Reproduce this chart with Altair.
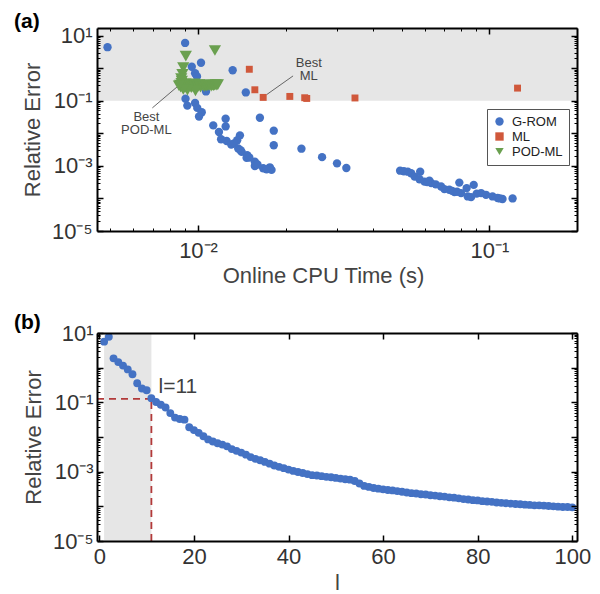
import altair as alt
import pandas as pd

FONT = "Liberation Sans"

# ---------------- panel (a): error vs online CPU time ----------------
grom_time = [0.00489, 0.00903, 0.01024, 0.00952, 0.00977, 0.00992, 0.01315, 0.01459,
             0.00906, 0.00919, 0.00977, 0.00994, 0.0103, 0.01008, 0.01128, 0.01244,
             0.01244, 0.0118, 0.0120, 0.01254, 0.01393, 0.01363, 0.01328, 0.01374,
             0.01412, 0.01475, 0.01468, 0.01567, 0.01567, 0.01674, 0.01764, 0.01788,
             0.01631, 0.0182, 0.0182, 0.02265, 0.02666, 0.0300, 0.0323,
             0.0494, 0.0525, 0.0539, 0.0579, 0.0554, 0.0576, 0.0599, 0.0623, 0.0632,
             0.0683, 0.0701, 0.0729, 0.0789, 0.0759, 0.0800, 0.0836, 0.0884, 0.0843,
             0.0866, 0.0937, 0.0974, 0.1026, 0.1068, 0.1110, 0.1202,
             0.01065, 0.0130, 0.0140, 0.0150, 0.0160, 0.0172,
             0.0509, 0.0612, 0.0655, 0.0745, 0.0775, 0.0905, 0.1087]
grom_err = [4.38, 5.92, 1.46, 1.10, 0.695, 0.556, 0.857, 0.179,
            0.115, 0.0705, 0.085, 0.060, 0.044, 0.0327, 0.0174, 0.0278,
            0.0162, 0.0109, 0.00653, 0.0058, 0.00863, 0.00608, 0.00483, 0.0034,
            0.00268, 0.00213, 0.00176, 0.00133, 0.00099, 0.00084, 0.0009, 0.00075,
            0.0298, 0.012, 0.00429, 0.00336, 0.00185, 0.00119, 0.000857,
            0.00071, 0.000662, 0.000592, 0.000662, 0.000467, 0.000389, 0.000329, 0.000352, 0.000294,
            0.000232, 0.000193, 0.000184, 0.000306, 0.000157, 0.000146, 0.000207, 0.00026, 0.000115,
            0.00011, 0.000146, 0.000129, 0.000115, 0.000103, 0.0000959, 0.0001,
            0.192, 0.0045, 0.0030, 0.0018, 0.0011, 0.00078,
            0.00068, 0.00032, 0.00027, 0.00017, 0.00016, 0.00014, 0.0001]

ml_time = [0.0150, 0.01567, 0.01674, 0.02066, 0.02324, 0.02362, 0.03458, 0.125]
ml_err = [0.92, 0.216, 0.126, 0.135, 0.123, 0.117, 0.121, 0.243]

pod_time = [0.00908, 0.01143, 0.0089, 0.00884, 0.00876, 0.0088,
            0.00868, 0.00872, 0.00878, 0.00885, 0.0089, 0.00895, 0.0090, 0.00905,
            0.0091, 0.00915, 0.0092, 0.00928, 0.00935, 0.0094, 0.00948, 0.00955,
            0.0096, 0.00968, 0.00975, 0.0098, 0.0099, 0.0100, 0.0101, 0.0102,
            0.0103, 0.0104, 0.0105, 0.0106, 0.0107, 0.0108, 0.0109, 0.0110,
            0.0111, 0.0112, 0.0113, 0.0114, 0.0115, 0.0116, 0.0117,
            0.0098, 0.0092, 0.0089, 0.0086]
pod_err = [2.33, 3.47, 1.03, 0.65, 0.48, 0.40,
           0.30, 0.26, 0.34, 0.28, 0.24, 0.31, 0.27, 0.33,
           0.25, 0.29, 0.30, 0.26, 0.32, 0.28, 0.25, 0.30,
           0.27, 0.33, 0.28, 0.24, 0.30, 0.27, 0.31, 0.26,
           0.29, 0.30, 0.27, 0.30, 0.28, 0.30, 0.29, 0.30,
           0.28, 0.30, 0.29, 0.30, 0.31, 0.30, 0.31,
           0.20, 0.21, 0.22, 0.286]

series_names = ["G-ROM", "ML", "POD-ML"]
series_colors = ["#4472C4", "#D0583B", "#6AA04F"]
series_shapes = ["circle", "square", "triangle-down"]
series_sizes = [70, 48, 150]

time_domain = [0.0045, 0.2]
err_domain_a = [1e-5, 17]
gray_limit = 0.1

# annotation arrows (start point, end point) and texts
best_ml_line = {"t0": 0.01718, "e0": 0.152, "t1": 0.0212, "e1": 0.575}
best_pod_line = {"t0": 0.00856, "e0": 0.286, "t1": 0.00697, "e1": 0.060}
best_texts = {"t": [0.024, 0.00665], "e": [2.17, 0.0497], "label": ["Best\nML", "Best\nPOD-ML"]}

# ---------------- panel (b): error vs number of modes l ----------------
modes = list(range(1, 101))
mode_err = [5.62, 7.76, 1.86, 1.45, 1.15, 0.891, 0.646, 0.355, 0.251, 0.224,
            0.132, 0.102, 0.0851, 0.0708, 0.049, 0.0363, 0.0331, 0.0316, 0.0191, 0.0158,
            0.0132, 0.0105, 0.00851, 0.00741, 0.00661, 0.00603, 0.00537, 0.00447, 0.00398, 0.00355,
            0.00309, 0.00263, 0.00234, 0.00214, 0.00191, 0.0017, 0.00151, 0.00138, 0.00126, 0.00115,
            0.00105, 0.000977, 0.000912, 0.000851, 0.000794, 0.000776, 0.000741, 0.000708, 0.000692, 0.000661,
            0.000631, 0.000603, 0.000589, 0.000537, 0.000457, 0.000389, 0.000363, 0.000339, 0.000324, 0.000309,
            0.000295, 0.000288, 0.000275, 0.000263, 0.000251, 0.00024, 0.000234, 0.000224, 0.000219, 0.000209,
            0.000204, 0.000195, 0.000191, 0.000182, 0.000178, 0.00017, 0.000162, 0.000158, 0.000151, 0.000148,
            0.000141, 0.000138, 0.000135, 0.000129, 0.000126, 0.000123, 0.00012, 0.000117, 0.000115, 0.000112,
            0.00011, 0.000107, 0.000107, 0.000105, 0.000102, 0.0001, 0.0000977, 0.0000955, 0.0000955, 0.0000933]
l_domain = [-0.5, 101]
err_domain_b = [1e-5, 10]
gray_l = [1, 11]
best_l = 11
best_l_err = 0.125
best_label = {"l": 12.5, "e": 0.183, "text": "l=11"}

# tick values
x_major_a = [0.01, 0.1]
x_minor_a = [0.005, 0.006, 0.007, 0.008, 0.009, 0.02, 0.03, 0.04, 0.05, 0.06, 0.07, 0.08, 0.09, 0.2]
y_major = [1e-5, 1e-4, 1e-3, 1e-2, 1e-1, 1, 10]
y_minor = [m * d for d in [1e-5, 1e-4, 1e-3, 1e-2, 1e-1, 1] for m in range(2, 10)] + [10]
y_labels = [1e-5, 1e-3, 1e-1, 10]
x_major_b = [0, 20, 40, 60, 80, 100]

W = 480
HA = 203
HB = 208

Y_LABEL_EXPR = ("datum.value > 5 ? '10\u00b9' : datum.value > 0.05 ? '10\u207b\u00b9' : "
                "datum.value > 0.0005 ? '10\u207b\u00b3' : '10\u207b\u2075'")
X_LABEL_EXPR = "datum.value > 0.05 ? '10\u207b\u00b9' : '10\u207b\u00b2'"

LABEL_STYLE = dict(labelFont=FONT, labelFontSize=22, labelColor="#333333",
                   titleFont=FONT, titleFontSize=22, titleColor="#444444",
                   titleFontWeight="normal")


def tick_axis(orient, vals, size, width, domain):
    return alt.Axis(orient=orient, values=vals, labels=False, title=None, grid=False,
                    ticks=True, tickSize={"expr": str(-size)}, tickColor="black",
                    tickWidth=width, domain=domain, domainColor="black", domainWidth=2,
                    zindex=2)


def tick_layers(df, xf, yf, xs, ys, xmaj, xmin, ymaj, ymin):
    layers = []
    specs = [("bottom", "left", xmaj, ymaj, 6, 1.5, True),
             ("top", "right", xmaj, ymaj, 6, 1.5, True),
             ("bottom", "left", xmin if xmin is not None else [], ymin, 3, 1, False),
             ("top", "right", xmin if xmin is not None else [], ymin, 3, 1, False)]
    for xo, yo, xv, yv, size, width, dom in specs:
        layers.append(
            alt.Chart(df).mark_point(opacity=0).encode(
                x=alt.X(xf, type="quantitative", scale=xs, axis=tick_axis(xo, xv, size, width, dom)),
                y=alt.Y(yf, type="quantitative", scale=ys, axis=tick_axis(yo, yv, size, width, dom)),
            )
        )
    return layers


# ---------- build panel (a) ----------
series_data = [
    pd.DataFrame({"t": grom_time, "err": grom_err, "series": "G-ROM"}),
    pd.DataFrame({"t": ml_time, "err": ml_err, "series": "ML"}),
    pd.DataFrame({"t": pod_time, "err": pod_err, "series": "POD-ML"}),
]
pts_a = pd.concat(series_data, ignore_index=True)
xa = alt.Scale(type="log", domain=time_domain, nice=False)
ya = alt.Scale(type="log", domain=err_domain_a, nice=False)

gray_a = alt.Chart(pd.DataFrame({"x0": [time_domain[0]], "x1": [time_domain[1]],
                                 "y0": [gray_limit], "y1": [err_domain_a[1]]})).mark_rect(
    color="#E6E6E6").encode(
    x=alt.X("x0:Q", scale=xa, axis=None), x2="x1:Q",
    y=alt.Y("y0:Q", scale=ya, axis=None), y2="y1:Q")

lines_a = alt.Chart(pd.DataFrame([best_ml_line, best_pod_line])).mark_rule(
    color="#444444", strokeWidth=0.8).encode(
    x=alt.X("t0:Q", scale=xa, axis=None), x2="t1:Q",
    y=alt.Y("e0:Q", scale=ya, axis=None), y2="e1:Q")

texts_a = alt.Chart(pd.DataFrame(best_texts)).mark_text(
    font=FONT, fontSize=13, color="#444444", align="center", baseline="top",
    lineBreak="\n", lineHeight=13).encode(
    x=alt.X("t:Q", scale=xa, axis=None),
    y=alt.Y("e:Q", scale=ya, axis=None),
    text="label:N")

LEG = dict(title=None, orient="none", legendX=390, legendY=81, padding=6,
           strokeColor="#555555", fillColor="white", labelFont=FONT, labelFontSize=13,
           labelColor="#222222", rowPadding=1, symbolStrokeWidth=0, labelOffset=6,
           symbolSize=70)

color_enc = alt.Color("series:N", scale=alt.Scale(domain=series_names, range=series_colors),
                      legend=alt.Legend(**LEG))
shape_enc = alt.Shape("series:N", scale=alt.Scale(domain=series_names, range=series_shapes),
                      legend=alt.Legend(**LEG))

series_layers = []
for i, df in enumerate(series_data):
    if i == 0:
        xenc = alt.X("t:Q", scale=xa, axis=alt.Axis(
            orient="bottom", values=x_major_a, labelExpr=X_LABEL_EXPR, ticks=False, domain=False,
            grid=False, labelPadding=9, labelFlush=False, labelOverlap=False,
            title="Online CPU Time (s)", titleX=226, titleY=51, titleAlign="center",
            titleBaseline="alphabetic", zindex=1, **LABEL_STYLE))
        yenc = alt.Y("err:Q", scale=ya, axis=alt.Axis(
            orient="left", values=y_labels, labelExpr=Y_LABEL_EXPR, ticks=False, domain=False,
            grid=False, labelPadding=5, labelFlush=False, labelOverlap=False,
            title="Relative Error", titleX=-58, titleY=HA / 2, titleAngle=270,
            titleAlign="center", titleBaseline="alphabetic", zindex=1, **LABEL_STYLE))
    else:
        xenc = alt.X("t:Q", scale=xa, axis=None)
        yenc = alt.Y("err:Q", scale=ya, axis=None)
    series_layers.append(
        alt.Chart(df).mark_point(filled=True, opacity=1, strokeWidth=0,
                                 size=series_sizes[i]).encode(
            x=xenc, y=yenc, color=color_enc, shape=shape_enc))

label_a = alt.Chart(pd.DataFrame({"txt": ["(a)"]})).mark_text(
    font=FONT, fontSize=21, fontWeight="bold", color="black", align="left",
    baseline="middle").encode(x=alt.value(-83), y=alt.value(-6.5), text="txt:N")

panel_a = alt.layer(
    gray_a, lines_a, *series_layers, texts_a,
    *tick_layers(pts_a, "t", "err", xa, ya, x_major_a, x_minor_a, y_major, y_minor),
    label_a,
).resolve_axis(x="independent", y="independent").properties(width=W, height=HA)

# ---------- build panel (b) ----------
pts_b = pd.DataFrame({"l": modes, "lerr": mode_err})
xb = alt.Scale(domain=l_domain, nice=False, zero=False)
yb = alt.Scale(type="log", domain=err_domain_b, nice=False)

gray_b = alt.Chart(pd.DataFrame({"x0": [gray_l[0]], "x1": [gray_l[1]],
                                 "y0": [err_domain_b[0]], "y1": [err_domain_b[1]]})).mark_rect(
    color="#E6E6E6").encode(
    x=alt.X("x0:Q", scale=xb, axis=None), x2="x1:Q",
    y=alt.Y("y0:Q", scale=yb, axis=None), y2="y1:Q")

dash_b = alt.Chart(pd.DataFrame({
    "x0": [l_domain[0], best_l], "x1": [best_l, best_l],
    "y0": [best_l_err, err_domain_b[0]], "y1": [best_l_err, best_l_err]})).mark_rule(
    color="#B23A3A", strokeWidth=1.8, strokeDash=[7, 5]).encode(
    x=alt.X("x0:Q", scale=xb, axis=None), x2="x1:Q",
    y=alt.Y("y0:Q", scale=yb, axis=None), y2="y1:Q")

points_b = alt.Chart(pts_b).mark_circle(size=62, opacity=1, color="#4472C4").encode(
    x=alt.X("l:Q", scale=xb, axis=alt.Axis(
        orient="bottom", values=x_major_b, format="d", ticks=False, domain=False, grid=False,
        labelPadding=5, labelFlush=False, labelOverlap=False,
        title="l", titleX=W / 2, titleY=48, titleAlign="center", titleBaseline="alphabetic",
        zindex=1, **LABEL_STYLE)),
    y=alt.Y("lerr:Q", scale=yb, axis=alt.Axis(
        orient="left", values=y_labels, labelExpr=Y_LABEL_EXPR, ticks=False, domain=False,
        grid=False, labelPadding=4, labelFlush=False, labelOverlap=False,
        title="Relative Error", titleX=-57, titleY=HB / 2, titleAngle=270, titleAlign="center",
        titleBaseline="alphabetic", zindex=1, **LABEL_STYLE)),
)

text_b = alt.Chart(pd.DataFrame(best_label, index=[0])).mark_text(
    font=FONT, fontSize=21, color="#404040", align="left", baseline="alphabetic").encode(
    x=alt.X("l:Q", scale=xb, axis=None),
    y=alt.Y("e:Q", scale=yb, axis=None),
    text="text:N")

label_b = alt.Chart(pd.DataFrame({"txt": ["(b)"]})).mark_text(
    font=FONT, fontSize=21, fontWeight="bold", color="black", align="left",
    baseline="middle").encode(x=alt.value(-83), y=alt.value(-10.5), text="txt:N")

panel_b = alt.layer(
    gray_b, dash_b, points_b, text_b,
    *tick_layers(pts_b, "l", "lerr", xb, yb, x_major_b, None, y_major, y_minor),
    label_b,
).resolve_axis(x="independent", y="independent").properties(width=W, height=HB)

chart = alt.vconcat(panel_a, panel_b, spacing=102, bounds="flush").properties(
    padding={"left": 14, "top": 10, "right": 5, "bottom": 0},
    background="white",
).configure_view(stroke=None).configure_axis(
    labelFont=FONT, titleFont=FONT, labelColor="#333333", titleColor="#444444",
    labelFontSize=22, titleFontSize=22, titleFontWeight="normal",
).configure_legend(
    orient="none", legendX=390, legendY=81, padding=6, strokeColor="#555555",
    fillColor="white", labelFont=FONT, labelFontSize=13, labelColor="#222222",
    rowPadding=1, symbolStrokeWidth=0, labelOffset=6, symbolSize=70,
)

chart.save("out.html", embed_options={"renderer": "svg", "actions": False})
